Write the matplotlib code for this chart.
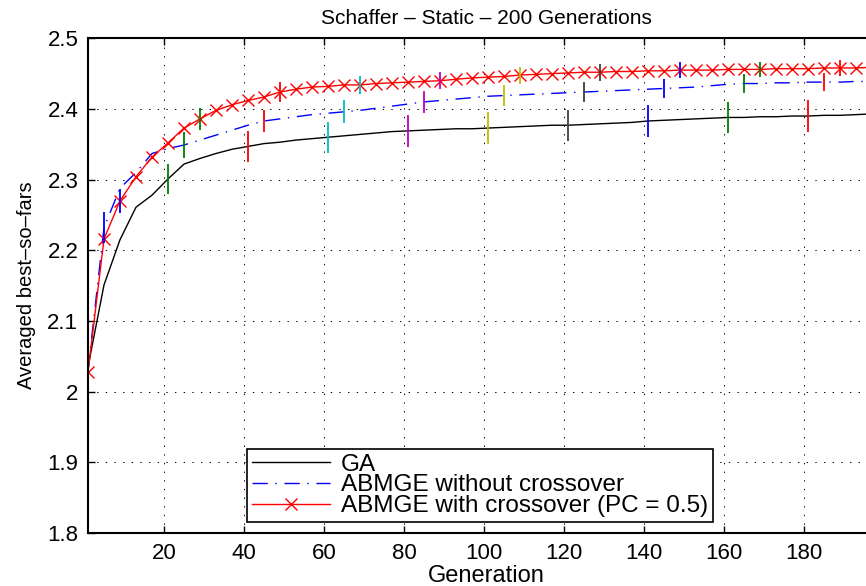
import numpy as np
import matplotlib
matplotlib.use("Agg")
import matplotlib.pyplot as plt

plt.rcParams['font.family'] = ['Liberation Sans', 'DejaVu Sans']

generations = list(range(1, 200, 4))  # 1,5,9,...,197

ga = [2.035, 2.151, 2.215, 2.261, 2.278, 2.301, 2.322, 2.330, 2.337, 2.343,
      2.347, 2.351, 2.353, 2.356, 2.358, 2.360, 2.362, 2.364, 2.366, 2.368,
      2.369, 2.370, 2.371, 2.372, 2.372, 2.373, 2.374, 2.375, 2.376, 2.377,
      2.377, 2.378, 2.379, 2.380, 2.381, 2.383, 2.384, 2.385, 2.386, 2.387,
      2.388, 2.388, 2.389, 2.389, 2.390, 2.390, 2.391, 2.391, 2.392, 2.393]

abmge = [2.030, 2.232, 2.288, 2.310, 2.337, 2.344, 2.349, 2.356, 2.363, 2.370,
         2.377, 2.383, 2.386, 2.389, 2.392, 2.394, 2.396, 2.398, 2.401, 2.404,
         2.407, 2.410, 2.412, 2.414, 2.416, 2.418, 2.419, 2.420, 2.421, 2.422,
         2.423, 2.424, 2.425, 2.426, 2.427, 2.428, 2.429, 2.430, 2.431, 2.433,
         2.435, 2.436, 2.436, 2.437, 2.437, 2.438, 2.438, 2.438, 2.439, 2.439]

abmge_x = [2.028, 2.216, 2.270, 2.304, 2.332, 2.352, 2.373, 2.386, 2.398, 2.406,
           2.412, 2.417, 2.424, 2.428, 2.431, 2.432, 2.434, 2.434, 2.436, 2.437,
           2.438, 2.439, 2.440, 2.442, 2.444, 2.445, 2.446, 2.448, 2.449, 2.450,
           2.451, 2.452, 2.452, 2.453, 2.453, 2.454, 2.454, 2.455, 2.455, 2.455,
           2.456, 2.456, 2.456, 2.457, 2.457, 2.457, 2.458, 2.458, 2.458, 2.459]

# error bars every 20 generations, offset per series
ga_err_gen = [1, 21, 41, 61, 81, 101, 121, 141, 161, 181]
ga_err = [0.026, 0.021, 0.022, 0.022, 0.023, 0.023, 0.022, 0.022, 0.022, 0.022]
abmge_err_gen = [5, 25, 45, 65, 85, 105, 125, 145, 165, 185]
abmge_err = [0.022, 0.019, 0.016, 0.016, 0.015, 0.015, 0.014, 0.014, 0.013, 0.013]
abmgex_err_gen = [9, 29, 49, 69, 89, 109, 129, 149, 169, 189]
abmgex_err = [0.017, 0.016, 0.014, 0.013, 0.012, 0.012, 0.012, 0.011, 0.011, 0.011]

err_colors = [(0, 0, 1), (0, 0.5, 0), (1, 0, 0), (0, 0.75, 0.75),
              (0.75, 0, 0.75), (0.75, 0.75, 0), (0.25, 0.25, 0.25)]

xticks = [20, 40, 60, 80, 100, 120, 140, 160, 180]
yticks = [1.8, 1.9, 2.0, 2.1, 2.2, 2.3, 2.4, 2.5]
ytick_labels = ['1.8', '1.9', '2', '2.1', '2.2', '2.3', '2.4', '2.5']

W, H = 866, 586
fig = plt.figure(figsize=(W / 100, H / 100), dpi=100)
left, right, top, bottom = 88, 884, 38.3, 533
ax = fig.add_axes([left / W, (H - bottom) / H, (right - left) / W, (bottom - top) / H])

l1, = ax.plot(generations, ga, color='black', lw=1.0, label='GA')
l2, = ax.plot(generations, abmge, color='blue', lw=1.0,
              linestyle=(0, (11, 5.5, 1, 5.5)), label='ABMGE without crossover')
l3, = ax.plot(generations, abmge_x, color='red', lw=1.0, marker='x',
              markersize=8, markeredgewidth=1.0, label='ABMGE with crossover (PC = 0.5)')

def draw_err(gens, errs, series):
    for i, (g, e) in enumerate(zip(gens, errs)):
        yv = series[generations.index(g)]
        ax.errorbar([g], [yv], yerr=[e], fmt='none',
                    ecolor=err_colors[i % len(err_colors)], elinewidth=1.3, capsize=0)

draw_err(ga_err_gen, ga_err, ga)
draw_err(abmge_err_gen, abmge_err, abmge)
draw_err(abmgex_err_gen, abmgex_err, abmge_x)

ax.set_xlim(1, 200)
ax.set_ylim(1.8, 2.5)
ax.set_xticks(xticks)
ax.set_xticklabels([str(t) for t in xticks])
ax.set_yticks(yticks)
ax.set_yticklabels(ytick_labels)
ax.tick_params(direction='in', length=5, width=1, top=True, right=True,
               labelsize=16, colors='black')
ax.tick_params(axis='x', pad=7)
ax.tick_params(axis='y', pad=7)
for s in ax.spines.values():
    s.set_linewidth(1.5)
ax.grid(True, color='black', linestyle=(0, (1.4, 7.5)), linewidth=0.7)

ax.set_title('Schaffer \u2013 Static \u2013 200 Generations', fontsize=15, pad=10)
ax.set_xlabel('Generation', fontsize=17, labelpad=1)
ax.set_ylabel('Averaged best\u2013so\u2013fars', fontsize=14.5, labelpad=8)

leg = ax.legend(handles=[l1, l2, l3], loc='lower left',
                bbox_to_anchor=(0.1997, 0.0222), borderaxespad=0,
                fontsize=17.5, fancybox=False, framealpha=1, edgecolor='black',
                handlelength=3.2, handletextpad=0.45, labelspacing=-0.05,
                borderpad=0.2)
leg.get_frame().set_linewidth(1.2)

fig.savefig('out.png', dpi=100)
